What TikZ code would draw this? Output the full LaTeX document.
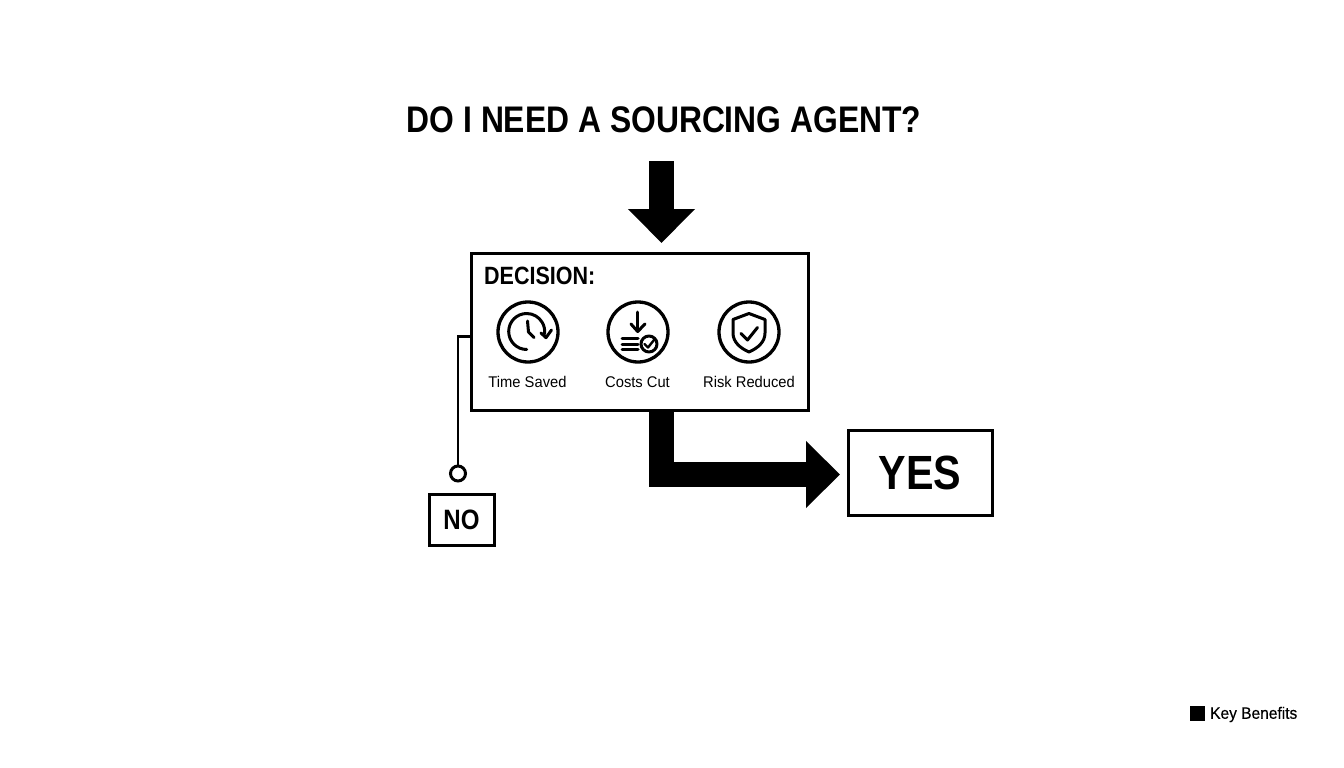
\documentclass[tikz,border=0pt]{standalone}
\usepackage{fontspec}
\usepackage{tikz}
\usetikzlibrary{arrows.meta}
\setmainfont[FakeStretch=0.95]{Liberation Sans}
\newfontfamily\headfont[FakeStretch=0.86]{Liberation Sans}
\newfontfamily\keyfont[FakeStretch=0.94, FakeBold=0.5]{Liberation Sans}
\tikzset{
  box/.style={draw=black, line width=3pt, fill=white, inner sep=0pt},
  ring/.style={draw=black, line width=3.3pt, circle, inner sep=0pt, minimum size=60pt},
  iconline/.style={draw=black, line width=3pt, line cap=round, line join=round},
  iconlabel/.style={font=\fontsize{15.5}{18}\selectfont},
  fatarrow/.style={draw=black, line width=25pt, line join=miter, -{Triangle[length=34pt, width=65pt]}}
}
\begin{document}
\begin{tikzpicture}[x=1pt, y=-1pt]
\useasboundingbox (0,0) rectangle (1344,768);
% heading and the way in
\node[font=\headfont\bfseries\fontsize{37}{42}\selectfont] (question) at (664,120) {DO I NEED A SOURCING AGENT?};
\coordinate (entry) at (661.5,161);
\coordinate (entryend) at (661.5,243);
\draw[fatarrow] (entry) -- (entryend);
% decision box
\node[box, minimum width=337pt, minimum height=157pt] (decision) at (640,332) {};
\node[font=\headfont\bfseries\fontsize{25}{28}\selectfont, anchor=west, inner sep=0pt] (decisiontitle) at (484,276) {DECISION:};
\node[ring] (timering) at (528,332) {};
\node[ring] (costring) at (638,332) {};
\node[ring] (riskring) at (749,332) {};
\node[iconlabel] (timelabel) at (527.5,382) {Time Saved};
\node[iconlabel] (costlabel) at (637.5,382) {Costs Cut};
\node[iconlabel] (risklabel) at (749,382) {Risk Reduced};
% clock
\draw[iconline] (526.7,349.5) arc[start angle=90, end angle=368, x radius=18, y radius=18];
\draw[iconline] (527.5,321) -- (528.5,332) -- (534,337.5);
\draw[iconline] (541,333) -- (546,337.7) -- (551.5,330);
% costs
\draw[iconline] (637.7,312) -- (637.7,331);
\draw[iconline] (631,324) -- (637.7,331.5) -- (645,324);
\draw[iconline] (622,338.5) -- (638,338.5);
\draw[iconline] (622,344) -- (638,344);
\draw[iconline] (622,349.5) -- (638,349.5);
\draw[iconline] (649,344) circle[radius=8];
\draw[iconline, line width=2.4pt] (644.5,344) -- (648,347.5) -- (654,340);
% shield
\draw[iconline] (749,313.5) -- (765,319.5) -- (765,333) .. controls (765,342) and (758,348) .. (749,352) .. controls (740,348) and (733,342) .. (733,333) -- (733,319.5) -- cycle;
\draw[iconline] (741,333.5) -- (747.5,340) -- (757.5,327.5);
% answers
\node[box, minimum width=144pt, minimum height=85pt, font=\headfont\bfseries\fontsize{48}{56}\selectfont] (yes) at (920,473) {YES};
\node[box, minimum width=65pt, minimum height=51pt, font=\headfont\bfseries\fontsize{28}{32}\selectfont] (no) at (461.5,519.5) {NO};
\node[circle, draw=black, line width=3pt, fill=white, minimum size=15pt, inner sep=0pt] (nodot) at (458,473.5) {};
\coordinate (yesstart) at (661.5,411);
\draw[fatarrow, shorten >=6.5pt] (yesstart) |- ([yshift=-1.5pt]yes.west);
\draw[draw=black, line width=2.8pt] (decision.west |- 0,336.5) -| (nodot.north);
% legend
\node[fill=black, minimum size=15pt, inner sep=0pt] (legendmark) at (1197.5,713.5) {};
\node[font=\keyfont\fontsize{16.5}{20}\selectfont, anchor=west, inner sep=0pt] (legendtext) at (1210,714.5) {Key Benefits};
\end{tikzpicture}
\end{document}
